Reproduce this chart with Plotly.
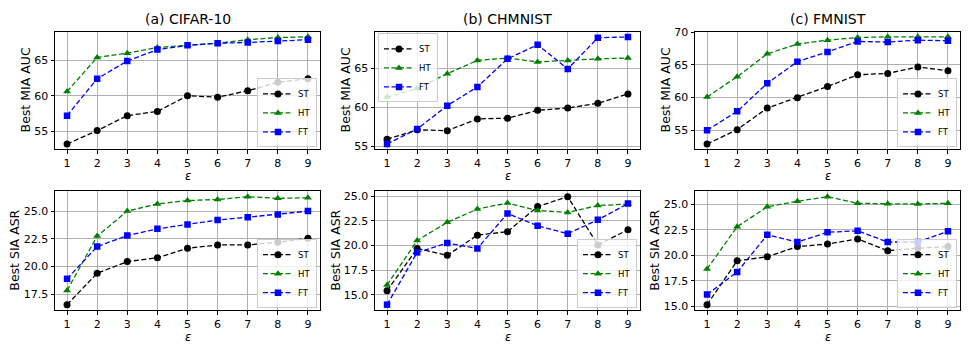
import plotly.graph_objects as go
from plotly.subplots import make_subplots

# ── Data ──────────────────────────────────────────────────────────────
eps = [1, 2, 3, 4, 5, 6, 7, 8, 9]

titles = ["(a) CIFAR-10", "(b) CHMNIST", "(c) FMNIST"]
y_titles = ["Best MIA AUC", "Best SIA ASR"]

# Best MIA AUC
cifar_mia_st = [53.2, 55.1, 57.2, 57.8, 60.0, 59.8, 60.7, 61.9, 62.4]
cifar_mia_ht = [60.6, 65.4, 66.0, 66.8, 67.1, 67.4, 67.9, 68.2, 68.3]
cifar_mia_ft = [57.2, 62.4, 64.9, 66.5, 67.1, 67.4, 67.5, 67.7, 67.9]

chm_mia_st = [55.9, 57.1, 57.0, 58.5, 58.6, 59.6, 59.9, 60.5, 61.7]
chm_mia_ht = [61.3, 62.4, 64.3, 66.0, 66.3, 65.8, 66.0, 66.2, 66.3]
chm_mia_ft = [55.3, 57.2, 60.2, 62.6, 66.2, 68.0, 64.9, 68.9, 69.0]

fm_mia_st = [52.9, 55.1, 58.4, 60.0, 61.7, 63.5, 63.7, 64.7, 64.1]
fm_mia_ht = [60.1, 63.2, 66.7, 68.2, 68.8, 69.2, 69.3, 69.3, 69.3]
fm_mia_ft = [55.0, 57.9, 62.2, 65.5, 67.0, 68.6, 68.5, 68.8, 68.7]

# Best SIA ASR
cifar_sia_st = [16.57, 19.4, 20.45, 20.8, 21.65, 21.95, 21.95, 22.2, 22.55]
cifar_sia_ht = [17.85, 22.75, 25.0, 25.65, 25.95, 26.05, 26.3, 26.15, 26.2]
cifar_sia_ft = [18.9, 21.8, 22.8, 23.4, 23.8, 24.2, 24.45, 24.7, 25.0]

chm_sia_st = [15.4, 19.7, 19.0, 21.05, 21.4, 23.95, 24.95, 20.05, 21.6]
chm_sia_ht = [16.0, 20.5, 22.35, 23.7, 24.3, 23.55, 23.35, 24.05, 24.2]
chm_sia_ft = [14.0, 19.3, 20.25, 19.7, 23.25, 22.0, 21.2, 22.6, 24.25]

fm_sia_st = [15.15, 19.45, 19.85, 20.85, 21.1, 21.6, 20.45, 20.7, 20.85]
fm_sia_ht = [18.65, 22.8, 24.75, 25.3, 25.75, 25.1, 25.05, 25.03, 25.1]
fm_sia_ft = [16.15, 18.35, 22.0, 21.3, 22.25, 22.4, 21.3, 21.3, 22.35]

panels = [
    (1, 1, [cifar_mia_st, cifar_mia_ht, cifar_mia_ft]),
    (1, 2, [chm_mia_st, chm_mia_ht, chm_mia_ft]),
    (1, 3, [fm_mia_st, fm_mia_ht, fm_mia_ft]),
    (2, 1, [cifar_sia_st, cifar_sia_ht, cifar_sia_ft]),
    (2, 2, [chm_sia_st, chm_sia_ht, chm_sia_ft]),
    (2, 3, [fm_sia_st, fm_sia_ht, fm_sia_ft]),
]

series_names = ["ST", "HT", "FT"]
series_colors = ["black", "green", "blue"]
series_symbols = ["circle", "triangle-up", "square"]

# the page body adds an 8px margin, so the figure is that much smaller
OFF = 8
W, H = 969 - OFF, 355 - OFF
FONT = "DejaVu Sans, Liberation Sans, sans-serif"


def px_x(v):
    return (v - OFF) / W


def px_y(v):
    return 1 - (v - OFF) / H


# pixel geometry (window coordinates) of the axes boxes
x_dom_px = [(55, 320), (375, 640), (695, 960)]
y_dom_px = [(27, 148), (191, 313)]
# y-title centre x per row/col, x-title centre y per row
ytitle_x_px = [(25, 345, 665), (15, 336, 655)]
xtitle_y_px = [175, 341]

# legend anchors (pixel) per panel: x, y, xanchor, yanchor
legend_pos = [
    (317, 146, "right", "bottom"),
    (378, 29, "left", "top"),
    (957, 146, "right", "bottom"),
    (317, 311, "right", "bottom"),
    (637, 311, "right", "bottom"),
    (957, 311, "right", "bottom"),
]

fig = make_subplots(rows=2, cols=3)

for i, (r, c, ys) in enumerate(panels):
    leg = "legend" if i == 0 else f"legend{i + 1}"
    for name, col, sym, y in zip(series_names, series_colors, series_symbols, ys):
        fig.add_trace(
            go.Scatter(
                x=eps, y=y, name=name, mode="lines+markers",
                line=dict(color=col, width=1.3, dash="5px,2.5px"),
                marker=dict(color=col, symbol=sym, size=7 if sym != "square" else 6.5),
                legend=leg,
            ),
            row=r, col=c,
        )

layout_legends = {}
for i, (lx, ly, xa, ya) in enumerate(legend_pos):
    key = "legend" if i == 0 else f"legend{i + 1}"
    layout_legends[key] = dict(
        x=px_x(lx), y=px_y(ly), xanchor=xa, yanchor=ya,
        xref="paper", yref="paper",
        bgcolor="rgba(255,255,255,0.8)", bordercolor="#cccccc", borderwidth=1,
        font=dict(family=FONT, size=8.5, color="black"),
        tracegroupgap=0, itemwidth=30,
    )

fig.update_layout(
    width=W, height=H,
    margin=dict(l=0, r=0, t=0, b=0),
    paper_bgcolor="white", plot_bgcolor="white",
    font=dict(family=FONT, size=11, color="black"),
    **layout_legends,
)

for r in (1, 2):
    for c in (1, 2, 3):
        x0, x1 = x_dom_px[c - 1]
        y0, y1 = y_dom_px[r - 1]
        fig.update_xaxes(
            domain=[px_x(x0), px_x(x1)], range=[0.6, 9.4],
            tickmode="array", tickvals=eps,
            showgrid=True, gridcolor="#b0b0b0", gridwidth=0.8,
            showline=True, linecolor="black", linewidth=1, mirror=True,
            ticks="outside", ticklen=3.5, tickcolor="black",
            tickfont=dict(size=11),
            zeroline=False,
            row=r, col=c,
        )
        fig.update_yaxes(
            domain=[px_y(y1), px_y(y0)],
            showgrid=True, gridcolor="#b0b0b0", gridwidth=0.8,
            showline=True, linecolor="black", linewidth=1, mirror=True,
            ticks="outside", ticklen=3.5, tickcolor="black",
            tickfont=dict(size=11),
            zeroline=False,
            row=r, col=c,
        )
        # axis titles as annotations for exact placement
        fig.add_annotation(
            text="<i>ε</i>", x=px_x((x0 + x1) / 2), y=px_y(xtitle_y_px[r - 1]),
            xref="paper", yref="paper", showarrow=False,
            font=dict(size=11.5, family=FONT), xanchor="center", yanchor="middle",
        )
        fig.add_annotation(
            text=y_titles[r - 1], x=px_x(ytitle_x_px[r - 1][c - 1]), y=px_y((y0 + y1) / 2),
            xref="paper", yref="paper", showarrow=False, textangle=-90,
            font=dict(size=12.5, family=FONT), xanchor="center", yanchor="middle",
        )

# y ranges (matplotlib-style 5% auto margins)
y_ranges = {
    (1, 1): [52.45, 69.05], (1, 2): [54.6, 69.7], (1, 3): [52.08, 70.12],
    (2, 1): [16.08, 26.79], (2, 2): [13.45, 25.5], (2, 3): [14.62, 26.28],
}
for (r, c), rg in y_ranges.items():
    if r == 1:
        fig.update_yaxes(range=rg, dtick=5, tick0=0, row=r, col=c)
    else:
        fig.update_yaxes(range=rg, dtick=2.5, tick0=0, tickformat=".1f", row=r, col=c)

# subplot titles
for c, t in enumerate(titles):
    x0, x1 = x_dom_px[c]
    fig.add_annotation(
        text=t, x=px_x((x0 + x1) / 2), y=px_y(14), xref="paper", yref="paper",
        showarrow=False, font=dict(size=14, family=FONT), xanchor="center", yanchor="middle",
    )

fig.write_html("out.html")
